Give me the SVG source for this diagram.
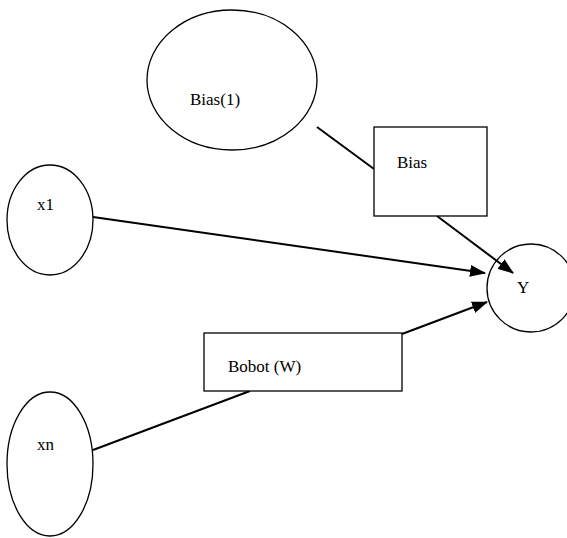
<svg xmlns="http://www.w3.org/2000/svg" width="567" height="538" viewBox="0 0 567 538">
<style>
.n{fill:#fff;stroke:#000;stroke-width:1.3}
.t{font-family:"Liberation Serif",serif;font-size:17px;fill:#000}
.c{stroke:#000;stroke-width:2;fill:none}
</style>
<defs>
<marker id="a" markerWidth="16" markerHeight="12" refX="15" refY="6" orient="auto" markerUnits="userSpaceOnUse">
<path d="M0,0 L16,6 L0,12 Z" fill="#000"/>
</marker>
</defs>
<rect width="567" height="538" fill="#fff"/>
<g id="bias1"><ellipse class="n" cx="232" cy="80" rx="85" ry="70"/><text class="t" x="190" y="105">Bias(1)</text></g>
<g id="x1"><ellipse class="n" cx="50" cy="220" rx="43" ry="55"/><text class="t" x="37" y="210">x1</text></g>
<g id="xn"><ellipse class="n" cx="50" cy="464" rx="43" ry="72"/><text class="t" x="37" y="450">xn</text></g>
<g id="y"><circle class="n" cx="531" cy="288" r="44"/><text class="t" x="517" y="293">Y</text></g>
<g id="connectors">
<line class="c" x1="317" y1="127" x2="374" y2="169"/>
<line class="c" x1="437" y1="216" x2="513" y2="273" marker-end="url(#a)"/>
<line class="c" x1="93" y1="217" x2="485" y2="273" marker-end="url(#a)"/>
<line class="c" x1="93" y1="450" x2="250" y2="391"/>
<line class="c" x1="402" y1="334" x2="487" y2="302" marker-end="url(#a)"/>
</g>
<g id="biasbox"><rect class="n" x="374" y="127" width="113" height="89"/><text class="t" x="397" y="168">Bias</text></g>
<g id="bobot"><rect class="n" x="204" y="333" width="198" height="58"/><text class="t" x="228" y="372">Bobot (W)</text></g>
</svg>
